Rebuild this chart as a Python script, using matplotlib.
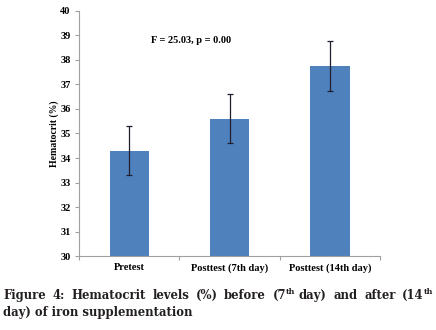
import matplotlib
matplotlib.use("Agg")
import matplotlib.pyplot as plt
from matplotlib.ticker import FixedLocator

categories = ["Pretest", "Posttest (7th day)", "Posttest (14th day)"]
means = [34.3, 35.6, 37.75]
errors = [1.0, 1.0, 1.03]
y_ticks = [30, 31, 32, 33, 34, 35, 36, 37, 38, 39, 40]
annotation = "F = 25.03, p = 0.00"

serif = ["Liberation Serif", "DejaVu Serif"]

fig = plt.figure(figsize=(4.36, 3.30), dpi=100)
ax = fig.add_axes([0.181, 0.224, 0.691, 0.743])

x = list(range(len(categories)))
ax.bar(x, means, width=0.39, color="#4f81bd", zorder=2)
ax.errorbar(x, means, yerr=errors, fmt="none", ecolor="#1f1f2f",
            elinewidth=0.9, capsize=2.5, capthick=0.9, zorder=3)

ax.set_xlim(-0.5, 2.5)
ax.set_ylim(30, 40)
ax.set_yticks(y_ticks)
ax.set_yticklabels([str(t) for t in y_ticks], fontfamily=serif,
                   fontweight="bold", fontsize=7.5)
ax.set_xticks(x)
ax.set_xticklabels(categories, fontfamily=serif, fontweight="bold", fontsize=7.5)
ax.tick_params(axis="x", which="major", length=0, pad=5)
ax.xaxis.set_minor_locator(FixedLocator([-0.5, 0.5, 1.5, 2.5]))
ax.tick_params(axis="x", which="minor", length=3, color="#a0a0a0", width=0.8)
ax.tick_params(axis="y", length=3, color="#a0a0a0", width=0.8, pad=3)

for s in ["top", "right"]:
    ax.spines[s].set_visible(False)
for s in ["left", "bottom"]:
    ax.spines[s].set_color("#a0a0a0")
    ax.spines[s].set_linewidth(0.8)

ax.set_ylabel("Hematocrit (%)", fontfamily=serif, fontweight="bold",
              fontsize=7, labelpad=1)

ax.text(0.62, 38.8, annotation, fontfamily=serif, fontweight="bold",
        fontsize=7.5, ha="center", va="center")

# caption
cap_color = "#231f20"
cap_size = 8.4
cap_font = dict(family="DejaVu Serif", weight="bold", size=cap_size, color=cap_color)
line1 = ["Figure", "4:", "Hematocrit", "levels", "(%)", "before",
         ("(7", "th", "day)"), "and", "after", ("(14", "th", "")]
line2 = "day) of iron supplementation"

fig.canvas.draw()
renderer = fig.canvas.get_renderer()
W = fig.get_figwidth() * fig.dpi
left_px, right_px = 3, 433
y1 = 1 - 299 / 330.0
y2 = 1 - 316 / 330.0

def measure(txt, size):
    t = fig.text(0, 0, txt, family="DejaVu Serif", weight="bold", size=size)
    w = t.get_window_extent(renderer).width
    t.remove()
    return w

words = []
for w in line1:
    if isinstance(w, tuple):
        a, sup, b = w
        wa = measure(a, cap_size)
        ws = measure(sup, 5.8)
        wb = measure(b, cap_size) if b else 0
        sp = measure(" ", cap_size) * 0.9 if b else 0
        words.append((w, wa + ws + sp + wb, wa, ws, sp))
    else:
        words.append((w, measure(w, cap_size)))
total = sum(item[1] for item in words)
gap = (right_px - left_px - total) / (len(words) - 1)
cx = left_px
for item in words:
    w = item[0]
    if isinstance(w, tuple):
        a, sup, b = w
        _, tw, wa, ws, sp = item
        fig.text(cx / W, y1, a, va="baseline", **cap_font)
        fig.text((cx + wa) / W, y1 + 4.5 / 330, sup, va="baseline",
                 family="DejaVu Serif", weight="bold", size=5.8, color=cap_color)
        if b:
            fig.text((cx + wa + ws + sp) / W, y1, b, va="baseline", **cap_font)
        cx += tw + gap
    else:
        fig.text(cx / W, y1, w, va="baseline", **cap_font)
        cx += item[1] + gap
fig.text(left_px / W, y2, line2, va="baseline", **cap_font)

fig.savefig("out.png", dpi=100)
